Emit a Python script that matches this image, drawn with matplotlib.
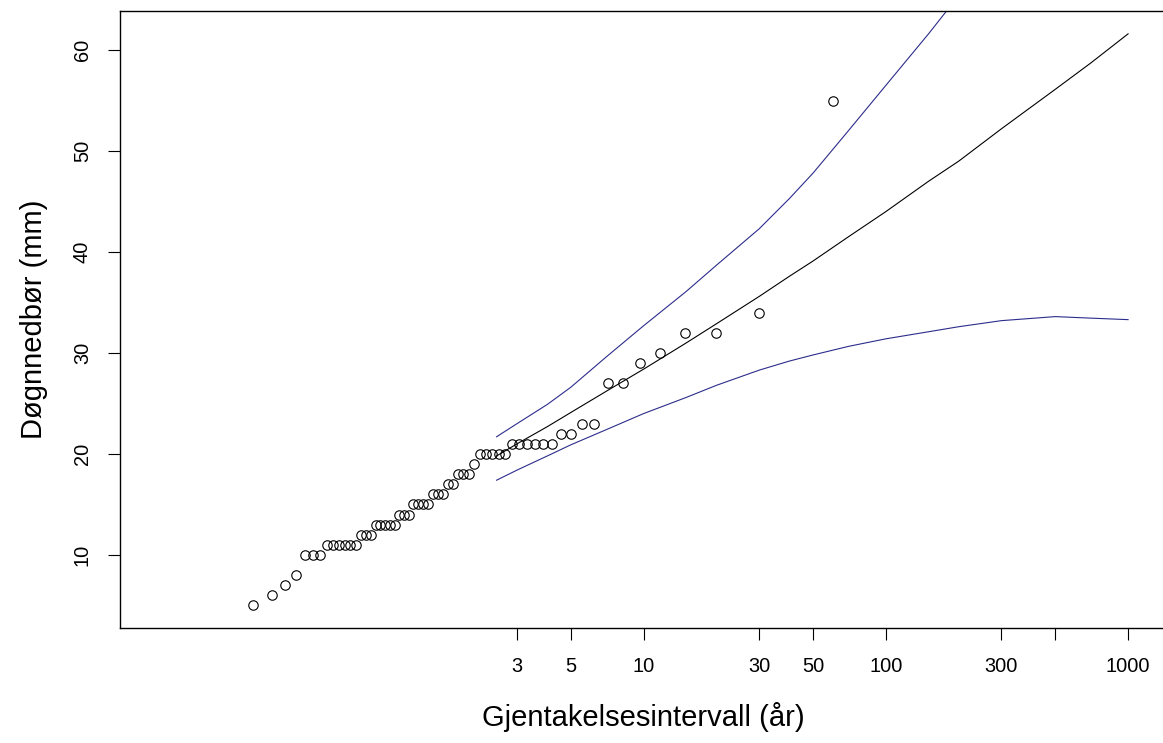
import numpy as np
import matplotlib.pyplot as plt
from matplotlib.ticker import NullLocator

plt.rcParams['font.family'] = ['Liberation Sans', 'DejaVu Sans']

# Annual maximum daily precipitation (mm), sorted
precip = [5, 6, 7, 8,
          10, 10, 10,
          11, 11, 11, 11, 11, 11,
          12, 12, 12,
          13, 13, 13, 13, 13,
          14, 14, 14,
          15, 15, 15, 15,
          16, 16, 16,
          17, 17,
          18, 18, 18,
          19,
          20, 20, 20, 20, 20,
          21, 21, 21, 21, 21, 21,
          22, 22, 23, 23, 27, 27, 29, 30, 32, 32, 34, 55]

# Return level curve and confidence band, read at these return periods
rl_period = [2.47, 3, 4, 5, 7, 10, 15, 20, 30, 40, 50, 70,
             100, 150, 200, 300, 500, 700, 1000]
rl_level = [19.8, 21.0, 22.7, 24.1, 26.2, 28.4, 31.0, 32.9, 35.6, 37.6,
            39.1, 41.5, 44.0, 47.0, 49.0, 52.2, 56.1, 58.7, 61.6]
rl_lower = [17.4, 18.4, 19.8, 20.9, 22.4, 24.0, 25.6, 26.8, 28.3, 29.2,
            29.8, 30.65, 31.4, 32.1, 32.6, 33.2, 33.6, 33.45, 33.3]
rl_upper = [21.7, 23.0, 24.9, 26.6, 29.6, 32.7, 36.1, 38.7, 42.3, 45.3,
            47.8, 52.0, 56.5, 61.6, 65.4, 71.1, 78.6, 84.0, 89.9]

tick_periods = [3, 5, 10, 30, 50, 100, 300, 500, 1000]
tick_labels = ['3', '5', '10', '30', '50', '100', '300', '', '1000']
y_ticks = [10, 20, 30, 40, 50, 60]

# empirical return periods (Weibull plotting positions)
n = len(precip)
p = np.arange(1, n + 1) / (n + 1)
emp_period = -1 / np.log(p)

fig = plt.figure(figsize=(11.63, 7.43), dpi=100)
ax = fig.add_axes([0.1036, 0.1544, 0.8997, 0.8308])

ax.plot(rl_period, rl_level, color='black', lw=0.8)
ax.plot(rl_period, rl_upper, color='#2c2c8c', lw=0.8)
ax.plot(rl_period, rl_lower, color='#2c2c8c', lw=0.8)
ax.plot(emp_period, sorted(precip), 'o', mfc='none', mec='black',
        ms=6.8, mew=0.8)

ax.set_xscale('log')
ax.set_xlim(10 ** -1.16, 10 ** 3.16)
yr = max(rl_level) - min(precip)
ax.set_ylim(min(precip) - 0.04 * yr, max(rl_level) + 0.04 * yr)

ax.set_xticks(tick_periods)
ax.set_xticklabels(tick_labels)
ax.xaxis.set_minor_locator(NullLocator())
ax.set_yticks(y_ticks)
ax.set_yticklabels([str(v) for v in y_ticks], rotation=90, va='center')

ax.tick_params(direction='out', length=8.6, width=0.8, labelsize=14.4,
               pad=12, colors='black')
for s in ax.spines.values():
    s.set_linewidth(1.0)

ax.set_xlabel('Gjentakelsesintervall (år)', fontsize=21)
ax.set_ylabel('Døgnnedbør (mm)', fontsize=21)
ax.xaxis.label.set_va('center')
ax.yaxis.label.set_va('center')
ax.xaxis.set_label_coords(0.5, -0.1437)
ax.yaxis.set_label_coords(-0.0827, 0.5)

fig.savefig('out.png', dpi=100)
